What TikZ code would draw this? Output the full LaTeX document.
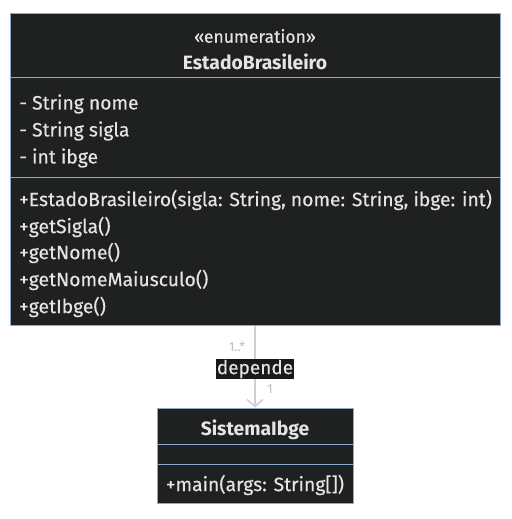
\documentclass[tikz,border=0pt]{standalone}
\usepackage{fontspec}
\setmainfont{Fira Sans}
\newfontfamily\medfont{Fira Sans}[FakeBold=0.35]
\usetikzlibrary{arrows.meta}
\definecolor{boxfill}{HTML}{1F2020}
\definecolor{boxline}{HTML}{89A9D0}
\definecolor{txt}{HTML}{E4E4E4}
\definecolor{edge}{HTML}{D0D0D0}
\definecolor{mult}{HTML}{BDBDBD}
\tikzset{
  classbox/.style={draw=boxline, fill=boxfill, line width=1pt, inner sep=0pt},
  divider/.style={draw=boxline, line width=1pt},
  member/.style={anchor=west, text=txt, inner sep=0pt, font=\medfont\fontsize{19.3}{22}\selectfont},
  titletext/.style={text=txt, inner sep=0pt, font=\fontsize{19.3}{22}\selectfont\bfseries},
  stereo/.style={text=txt, inner sep=0pt, font=\medfont\fontsize{17.5}{21}\selectfont},
  multtext/.style={text=mult, inner sep=0pt, font=\fontsize{13}{15}\selectfont},
  edgelabel/.style={fill=black!90, text=txt, inner sep=1pt, font=\medfont\fontsize{19}{22}\selectfont},
  dep/.style={draw=edge, line width=1.6pt, -{Straight Barb[length=7pt,width=16pt,line width=1.6pt]}}
}
\begin{document}
\begin{tikzpicture}[x=1pt,y=-1pt]
\useasboundingbox[fill=white] (0,0) rectangle (511,519);
% EstadoBrasileiro
\node[classbox, minimum width=490pt, minimum height=311pt] (enum) at (255,169.5) {};
\coordinate (ed1) at (10,77);
\coordinate (ed2) at (10,177);
\draw[divider] (ed1) -- (ed1 -| enum.east);
\draw[divider] (ed2) -- (ed2 -| enum.east);
\node[stereo] (enumst) at (255,36) {«enumeration»};
\node[titletext] (enumti) at (255,62) {EstadoBrasileiro};
\node[member] (a1) at (19,104) {- String nome};
\node[member] (a2) at (19,131) {- String sigla};
\node[member] (a3) at (19,158) {- int ibge};
\node[member] (m1) at (19,200) {+EstadoBrasileiro(sigla: String, nome: String, ibge: int)};
\node[member] (m2) at (19,227) {+getSigla()};
\node[member] (m3) at (19,253) {+getNome()};
\node[member] (m4) at (19,280) {+getNomeMaiusculo()};
\node[member] (m5) at (19,307) {+getIbge()};
% SistemaIbge
\node[classbox, minimum width=196pt, minimum height=95pt] (sis) at (255,455.5) {};
\coordinate (sd1) at (157,444);
\coordinate (sd2) at (157,464);
\draw[divider] (sd1) -- (sd1 -| sis.east);
\draw[divider] (sd2) -- (sd2 -| sis.east);
\node[titletext] (sisti) at (255,430) {SistemaIbge};
\node[member, anchor=center] (sm1) at (255,485) {+main(args: String[])};
% dependency
\draw[dep] (enum.south) -- (sis.north);
\node[edgelabel] (lbl) at (255,369) {depende};
\node[multtext] (mul1) at (237,347) {1..*};
\node[multtext] (mul2) at (270,389) {1};
\end{tikzpicture}
\end{document}
